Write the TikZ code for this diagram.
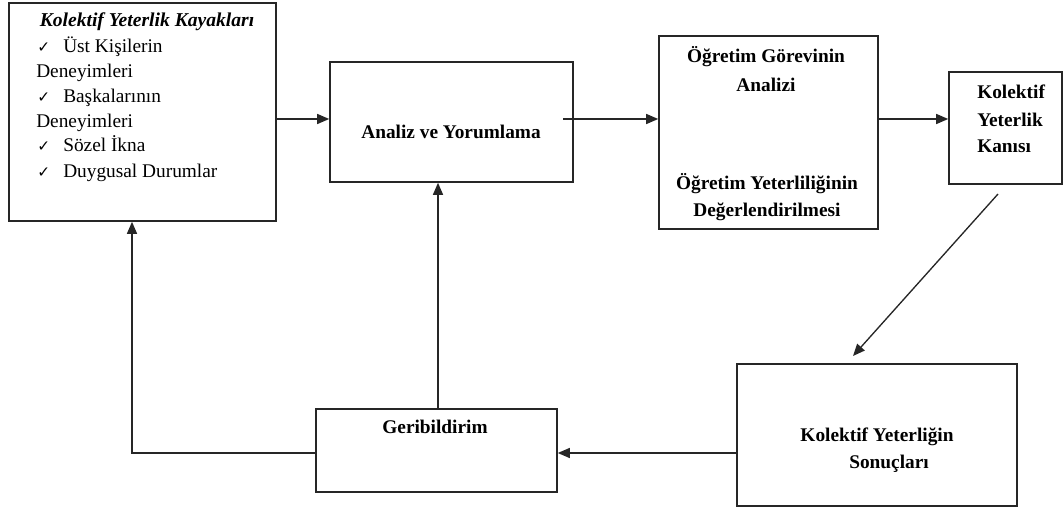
\documentclass[tikz,border=0pt]{standalone}
\usepackage{fontspec}
\setmainfont{Liberation Serif}
\newfontfamily\symfont{DejaVu Sans}
\usetikzlibrary{arrows.meta}
\begin{document}
\begin{tikzpicture}[x=0.75pt,y=-0.75pt,
  box/.style={draw=black!85, line width=1.2pt, inner sep=0pt, rectangle},
  txt/.style={inner sep=0pt, anchor=base, font=\fontsize{14.5}{17}\selectfont},
  ltxt/.style={txt, anchor=base west},
  btxt/.style={txt, font=\fontsize{14.5}{17}\selectfont\bfseries},
  lbtxt/.style={btxt, anchor=base west},
  chk/.style={inner sep=0pt, anchor=base west, font=\symfont\fontsize{11.5}{11.5}\selectfont},
  arr/.style={draw=black!85, line width=1pt, -{Triangle[length=9pt,width=7.5pt]}},
  ln/.style={draw=black!85, line width=1pt}]
\useasboundingbox (0,0) rectangle (1064,509);

% boxes
\node[box, minimum width=267*0.75pt, minimum height=218*0.75pt] (src) at (142.5,112) {};
\node[box, minimum width=243*0.75pt, minimum height=120*0.75pt] (ana) at (451.5,122) {};
\node[box, minimum width=219*0.75pt, minimum height=193*0.75pt] (ogr) at (768.5,132.5) {};
\node[box, minimum width=113*0.75pt, minimum height=112*0.75pt] (kan) at (1005.5,128) {};
\node[box, minimum width=280*0.75pt, minimum height=142*0.75pt] (son) at (877,435) {};
\node[box, minimum width=241*0.75pt, minimum height=83*0.75pt] (geri) at (436.5,450.5) {};

% source box texts
\node[txt, font=\fontsize{14.7}{17}\selectfont\bfseries\itshape] (t0) at (147,27) {Kolektif Yeterlik Kayakları};
\node[chk] (c1) at (37,53) {✓};
\node[ltxt] (t1) at (63,53) {Üst Kişilerin};
\node[ltxt] (t2) at (36,78) {Deneyimleri};
\node[chk] (c3) at (37,103) {✓};
\node[ltxt] (t3) at (63,103) {Başkalarının};
\node[ltxt] (t4) at (36,128) {Deneyimleri};
\node[chk] (c5) at (37,152) {✓};
\node[ltxt] (t5) at (63,152) {Sözel İkna};
\node[chk] (c6) at (37,178) {✓};
\node[ltxt] (t6) at (63,178) {Duygusal Durumlar};

% other texts
\node[btxt] (a1) at (451,139) {Analiz ve Yorumlama};
\node[btxt] (o1) at (766,63) {Öğretim Görevinin};
\node[btxt] (o2) at (766,92) {Analizi};
\node[btxt] (o3) at (767,190) {Öğretim Yeterliliğinin};
\node[btxt] (o4) at (767,217) {Değerlendirilmesi};
\node[lbtxt] (k1) at (977,99) {Kolektif};
\node[lbtxt] (k2) at (977,127) {Yeterlik};
\node[lbtxt] (k3) at (977,153) {Kanısı};
\node[btxt] (s1) at (877,441) {Kolektif Yeterliğin};
\node[btxt] (s2) at (889,469) {Sonuçları};
\node[btxt] (g1) at (435,434) {Geribildirim};

% connectors
\draw[arr] (src.east |- 0,119) -- (ana.west |- 0,119);
\coordinate (aout) at (563,119);
\draw[arr] (aout) -- (ogr.west |- aout);
\draw[arr] (ogr.east |- 0,119) -- (kan.west |- 0,119);
\coordinate (dA) at (998,194);
\coordinate (dB) at (853,356);
\draw[arr] (dA) -- (dB);
\draw[arr] (son.west |- 0,453) -- (geri.east |- 0,453);
\coordinate (corner) at (132,453);
\draw[arr] (geri.west |- corner) -- (corner) -- (src.south -| corner);
\draw[arr] (geri.north -| 438,0) -- (ana.south -| 438,0);
\end{tikzpicture}
\end{document}
